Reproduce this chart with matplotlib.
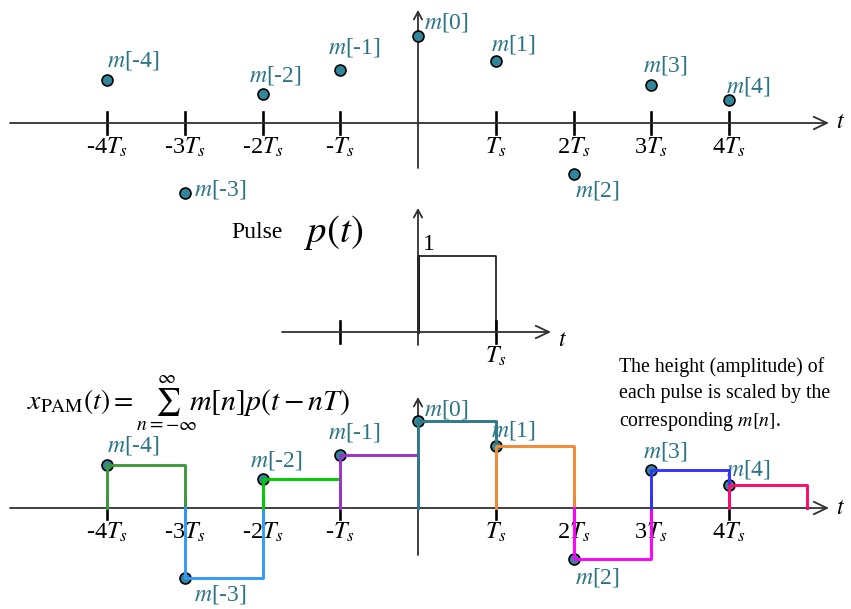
import numpy as np
import matplotlib.pyplot as plt

plt.rcParams['font.family'] = 'Liberation Serif'
plt.rcParams['mathtext.fontset'] = 'stix'

# sample values m[n], n = -4..4 (relative to m[0])
n_idx = [-4, -3, -2, -1, 0, 1, 2, 3, 4]
m_vals = [0.49, -0.80, 0.33, 0.61, 1.00, 0.71, -0.59, 0.44, 0.26]
m_labels = ['-4', '-3', '-2', '-1', '0', '1', '2', '3', '4']
tick_labels = ['-4$T_s$', '-3$T_s$', '-2$T_s$', '-$T_s$', '', '$T_s$',
               '2$T_s$', '3$T_s$', '4$T_s$']
pulse_colors = ['#3d9a3d', '#3399ff', '#00cc00', '#9933cc', '#2f7a8a',
                '#f28a36', '#ff00ff', '#3333ff', '#ff0a6c']
pulse_height = 1.0

# layout (pixels of the 851x609 picture)
PX_X = 77.75      # px per Ts
PX_Y = 87.0       # px per unit amplitude
X0 = 418          # px of t = 0
PULSE_SCALE = 76 / 87

def px(x, y):
    return (x - X0) / PX_X, -y / PX_Y

top_base = px(0, 123)[1]
pulse_base = px(0, 332)[1]
bot_base = px(0, 508)[1]
tick_half = 11 / PX_Y

teal_txt = '#2b7484'
dot_fill = '#31869b'

fig = plt.figure(figsize=(8.51, 6.09), dpi=100)
ax = fig.add_axes([0, 0, 1, 1])
ax.set_xlim(-X0 / PX_X, (851 - X0) / PX_X)
ax.set_ylim(-609 / PX_Y, 0)
ax.axis('off')

def arrow(p0, p1, hl, hw, lw=1.3):
    ax.annotate('', xy=px(*p1), xytext=px(*p0),
                arrowprops=dict(arrowstyle=f'->,head_length={hl},head_width={hw}',
                                lw=lw, color='#303030', shrinkA=0, shrinkB=0))

# axes arrows
arrow((10, 123), (829, 123), 0.95, 0.45)
arrow((418, 168), (418, 10), 0.55, 0.3)
arrow((282, 332), (551, 332), 0.95, 0.45)
arrow((418, 345), (418, 208), 0.55, 0.3)
arrow((10, 508), (829, 508), 0.95, 0.45)
arrow((418, 555), (418, 397), 0.55, 0.3)

for (x, y) in [(840, 123), (562, 340), (840, 508)]:
    ax.text(*px(x, y), '$t$', fontsize=17, ha='center', va='center')

label_off_top = [(26, 20), (36, 3), (13, 19), (14, 22), (28, 14),
                 (18, 17), (24, -16), (14, 19), (19, 14)]
label_off_bot = [(26, 20), (36, -17), (14, 19), (14, 22), (28, 12),
                 (18, 16), (24, -18), (14, 18), (19, 16)]

for base, offs in [(top_base, label_off_top), (bot_base, label_off_bot)]:
    for n, lab in zip(n_idx, tick_labels):
        if n != 0:
            ax.plot([n, n], [base - tick_half, base + tick_half],
                    color='black', lw=1.9, zorder=2)
            ax.text(n, base - 13 / PX_Y, lab, fontsize=17.5,
                    ha='center', va='top')
    ax.scatter(n_idx, [base + v for v in m_vals], s=62, c=dot_fill,
               edgecolors='black', linewidths=1.2, zorder=3)
    for n, v, lab, (dx, dy) in zip(n_idx, m_vals, m_labels, offs):
        ax.annotate('$m$[' + lab + ']', (n, base + v), xytext=(dx, dy),
                    textcoords='offset pixels', fontsize=17, color=teal_txt,
                    ha='center', va='center')

# PAM pulses
for n, v, c in zip(n_idx, m_vals, pulse_colors):
    ax.plot([n, n, n + 1, n + 1], [bot_base, bot_base + v, bot_base + v, bot_base],
            color=c, lw=2.1, zorder=4)

# single pulse p(t)
ph = pulse_height * PULSE_SCALE
ax.plot([0, 0, 1, 1], [pulse_base, pulse_base + ph, pulse_base + ph, pulse_base],
        color='black', lw=1.1, zorder=2)
ax.plot([0, 0], [pulse_base, pulse_base + ph], color='black', lw=2.0)
for n in [-1, 1]:
    ax.plot([n, n], [pulse_base - tick_half, pulse_base + tick_half],
            color='black', lw=1.9)
ax.text(1, pulse_base - 13 / PX_Y, '$T_s$', fontsize=17.5, ha='center', va='top')
ax.text(*px(423, 244), '1', fontsize=17, ha='left', va='center')
ax.text(*px(231, 232), 'Pulse', fontsize=17, ha='left', va='center')
ax.text(*px(304, 232), r'$p\left(t\right)$', fontsize=28, ha='left', va='center')

# formula (two pieces) and note
ax.text(*px(27, 410), r'$x_{\mathrm{PAM}}\left(t\right)=\sum_{n=-\infty}^{\infty}$',
        fontsize=20, ha='left', va='baseline')
ax.text(*px(189, 410), r'$m\left[n\right]p\left(t-nT\right)$',
        fontsize=21.5, ha='left', va='baseline')
ax.text(*px(619, 357), 'The height (amplitude) of\neach pulse is scaled by the\n'
        'corresponding $m[n]$.', fontsize=14.3, ha='left', va='top',
        linespacing=1.48)

fig.savefig('out.png', dpi=100)
